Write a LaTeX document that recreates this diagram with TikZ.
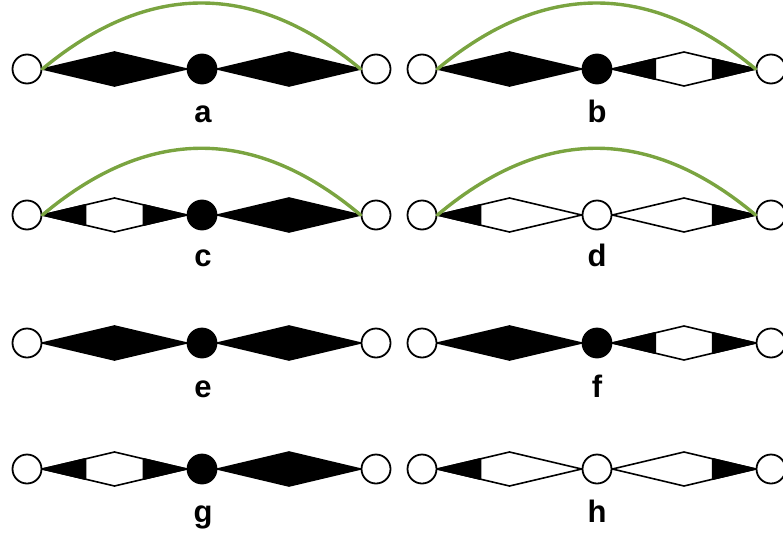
\documentclass[tikz,border=0pt]{standalone}
\usepackage{fontspec}
\setmainfont{Liberation Sans}
\usetikzlibrary{calc}

\definecolor{arcgreen}{RGB}{122,164,64}

\tikzset{
  site/.style={circle, draw=black, line width=1.8pt, minimum size=29pt, inner sep=0pt},
  opensite/.style={site, fill=white},
  heavysite/.style={site, fill=black},
  bondline/.style={draw=black, line width=1.6pt, line join=round},
  loop/.style={draw=arcgreen, line width=3.4pt, line cap=round},
  tag/.style={font=\bfseries\fontsize{31}{31}\selectfont, anchor=base, inner sep=0pt}
}

% fully filled bond between two sites
\newcommand\bondfull[2]{%
  \path (#1.east) coordinate (s) (#2.west) coordinate (t);
  \path[bondline, fill=black] (s) -- ($(s)!.5!(t)+(0,17)$) -- (t) -- ($(s)!.5!(t)+(0,-17)$) -- cycle;}
% open bond outline
\newcommand\bondopen[2]{%
  \path (#1.east) coordinate (s) (#2.west) coordinate (t);
  \path[bondline, fill=white] (s) -- ($(s)!.5!(t)+(0,17)$) -- (t) -- ($(s)!.5!(t)+(0,-17)$) -- cycle;}
% filled tip at the start end / at the finish end
\newcommand\tipstart{%
  \path[bondline, fill=black] (s) -- ($(s)!.3!(t)+(0,10.2)$) -- ($(s)!.3!(t)+(0,-10.2)$) -- cycle;}
\newcommand\tipend{%
  \path[bondline, fill=black] (t) -- ($(t)!.3!(s)+(0,10.2)$) -- ($(t)!.3!(s)+(0,-10.2)$) -- cycle;}
\newcommand\bondhex[2]{\bondopen{#1}{#2}\tipstart\tipend}
\newcommand\bondleft[2]{\bondopen{#1}{#2}\tipstart}
\newcommand\bondright[2]{\bondopen{#1}{#2}\tipend}

\begin{document}
\begin{tikzpicture}[x=1pt, y=-1pt]
\useasboundingbox (0,0) rectangle (783,535);

% ---- a ----
\node[opensite]  (a1) at (27,69) {};
\node[heavysite] (a2) at (202,69) {};
\node[opensite]  (a3) at (376,69) {};
\bondfull{a1}{a2}
\bondfull{a2}{a3}
\draw[loop] (a1.east) .. controls +(106,-88) and +(-106,-88) .. (a3.west);
\node[tag] at (203,122) {a};

% ---- b ----
\node[opensite]  (b1) at (422,69) {};
\node[heavysite] (b2) at (597,69) {};
\node[opensite]  (b3) at (771,69) {};
\bondfull{b1}{b2}
\bondhex{b2}{b3}
\draw[loop] (b1.east) .. controls +(106,-88) and +(-106,-88) .. (b3.west);
\node[tag] at (597,122) {b};

% ---- c ----
\node[opensite]  (c1) at (27,215) {};
\node[heavysite] (c2) at (202,215) {};
\node[opensite]  (c3) at (376,215) {};
\bondhex{c1}{c2}
\bondfull{c2}{c3}
\draw[loop] (c1.east) .. controls +(106,-89) and +(-106,-89) .. (c3.west);
\node[tag] at (203,266) {c};

% ---- d ----
\node[opensite] (d1) at (422,215) {};
\node[opensite] (d2) at (597,215) {};
\node[opensite] (d3) at (771,215) {};
\bondleft{d1}{d2}
\bondright{d2}{d3}
\draw[loop] (d1.east) .. controls +(106,-89) and +(-106,-89) .. (d3.west);
\node[tag] at (597,266) {d};

% ---- e ----
\node[opensite]  (e1) at (27,343) {};
\node[heavysite] (e2) at (202,343) {};
\node[opensite]  (e3) at (376,343) {};
\bondfull{e1}{e2}
\bondfull{e2}{e3}
\node[tag] at (203,397) {e};

% ---- f ----
\node[opensite]  (f1) at (422,343) {};
\node[heavysite] (f2) at (597,343) {};
\node[opensite]  (f3) at (771,343) {};
\bondfull{f1}{f2}
\bondhex{f2}{f3}
\node[tag] at (597,397) {f};

% ---- g ----
\node[opensite]  (g1) at (27,469) {};
\node[heavysite] (g2) at (202,469) {};
\node[opensite]  (g3) at (376,469) {};
\bondhex{g1}{g2}
\bondfull{g2}{g3}
\node[tag] at (203,522) {g};

% ---- h ----
\node[opensite] (h1) at (422,469) {};
\node[opensite] (h2) at (597,469) {};
\node[opensite] (h3) at (771,469) {};
\bondleft{h1}{h2}
\bondright{h2}{h3}
\node[tag] at (597,522) {h};
\end{tikzpicture}
\end{document}
